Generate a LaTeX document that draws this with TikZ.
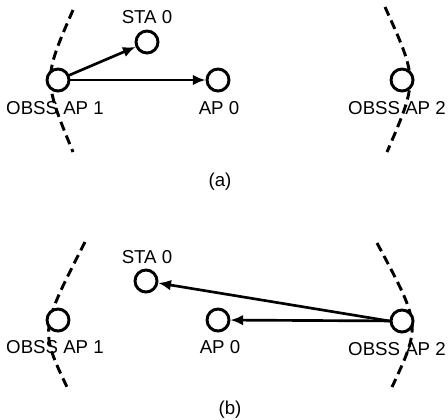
\documentclass[tikz,border=0pt]{standalone}
\usepackage{fontspec}
\setmainfont{Liberation Sans}
\usepackage{tikz}
\usetikzlibrary{arrows.meta}

\begin{document}
\begin{tikzpicture}[
    x=0.75pt, y=-0.75pt,
    station/.style={draw, circle, line width=2.2pt, fill=white, minimum size=16.5pt, inner sep=0pt},
    lab/.style={inner sep=0pt, font=\fontsize{14}{16}\selectfont},
    coverage/.style={line width=2.2pt, dash pattern=on 7pt off 4pt},
    tx/.style={-{Latex[length=9.5pt, width=8pt]}, line width=2pt, shorten <=-1pt}
  ]
    \useasboundingbox (0,0) rectangle (448,419);

    % (a) OBSS AP 1 sends
    \draw[coverage] (73,10) .. controls (43,79) .. (73,152);
    \draw[coverage] (385,7) .. controls (418,80) .. (387,152);

    \node[station] (ap1a) at (58,80) {};
    \node[station] (sta0a) at (147,42) {};
    \node[station] (ap0a) at (218,80) {};
    \node[station] (ap2a) at (402,80) {};

    \node[lab] (sta0alab) at (147,17) {STA 0};
    \node[lab] (ap1alab) at (55,108) {OBSS AP 1};
    \node[lab] (ap0alab) at (219,108) {AP 0};
    \node[lab] (ap2alab) at (397,108) {OBSS AP 2};
    \node[lab] (capa) at (220,182) {(a)};

    \draw[tx] (ap1a) -- (sta0a);
    \draw[tx] (ap1a) -- (ap0a);

    % (b) OBSS AP 2 sends
    \draw[coverage] (85,242) .. controls (40,330) .. (67,387);
    \draw[coverage] (377,243) .. controls (421,325) .. (392,387);

    \node[station] (ap1b) at (58,320) {};
    \node[station] (sta0b) at (146,281) {};
    \node[station] (ap0b) at (218,320) {};
    \node[station] (ap2b) at (402,321) {};

    \node[lab] (sta0blab) at (147,257) {STA 0};
    \node[lab] (ap1blab) at (55,347) {OBSS AP 1};
    \node[lab] (ap0blab) at (220,347) {AP 0};
    \node[lab] (ap2blab) at (397,349) {OBSS AP 2};
    \node[lab] (capb) at (230,410) {(b)};

    \draw[tx] (ap2b.west) -- (sta0b);
    \draw[tx] (ap2b) -- (ap0b);
  \end{tikzpicture}
\end{document}
